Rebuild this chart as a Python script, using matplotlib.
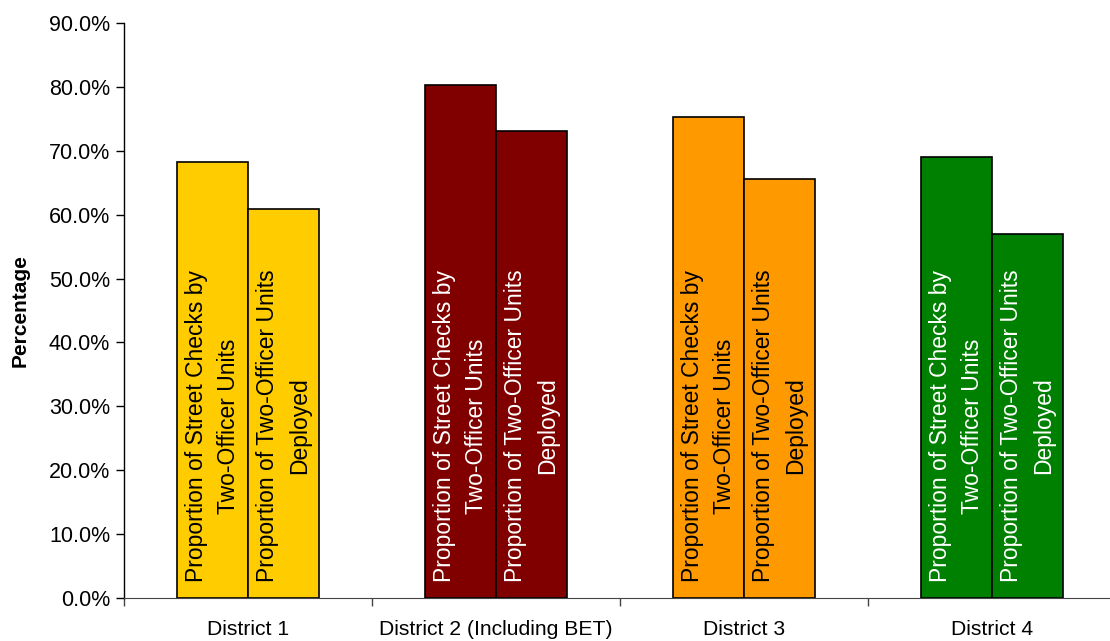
import matplotlib

matplotlib.use("Agg")

import matplotlib.pyplot as plt
import numpy as np
from matplotlib.ticker import FixedLocator, PercentFormatter

districts = ["District 1", "District 2 (Including BET)", "District 3", "District 4"]
street_checks = [68.2, 80.3, 75.3, 69.0]   # % street checks by two-officer units
units_deployed = [60.9, 73.1, 65.6, 57.0]  # % two-officer units deployed
colors = ["#FFCC00", "#800000", "#FF9900", "#008000"]
text_colors = ["black", "white", "black", "white"]

label_checks = "Proportion of Street Checks by\nTwo-Officer Units"
label_units = "Proportion of Two-Officer Units\nDeployed"

plt.rcParams["font.family"] = ["Liberation Sans", "DejaVu Sans"]

fig = plt.figure(figsize=(11.1, 6.41), dpi=100)
ax = fig.add_axes([124 / 1110, 43 / 641, 992 / 1110, 575 / 641])

x = np.arange(len(districts))
w = 0.286
ax.bar(x - w / 2, street_checks, w, color=colors, edgecolor="black", lw=1.2)
ax.bar(x + w / 2, units_deployed, w, color=colors, edgecolor="black", lw=1.2)

for i in range(len(districts)):
    for dx, lab in ((-w / 2, label_checks), (w / 2, label_units)):
        ax.text(x[i] + dx, 2.5, lab, rotation=90, ha="center", va="bottom",
                multialignment="center", fontsize=16.5,
                color=text_colors[i], linespacing=1.55)

ax.set_xlim(-0.5, 3.5)
ax.set_ylim(0, 90)
ax.yaxis.set_major_locator(FixedLocator(np.arange(0, 91, 10)))
ax.yaxis.set_major_formatter(PercentFormatter(decimals=1))
ax.tick_params(axis="y", labelsize=15.5, length=6, width=1, direction="out", pad=4)

ax.set_xticks(x)
ax.set_xticklabels(districts, fontsize=15.2)
ax.tick_params(axis="x", length=0, pad=16)
ax.xaxis.set_minor_locator(FixedLocator(np.arange(-0.5, 4.0, 1.0)))
ax.tick_params(axis="x", which="minor", length=6, width=1, color="#444444")

ax.set_ylabel("Percentage", fontsize=15, fontweight="bold", labelpad=14)

for s in ("top", "right"):
    ax.spines[s].set_visible(False)
ax.spines["left"].set_linewidth(1)
ax.spines["bottom"].set_color("#444444")

fig.savefig("out.png", dpi=100)
